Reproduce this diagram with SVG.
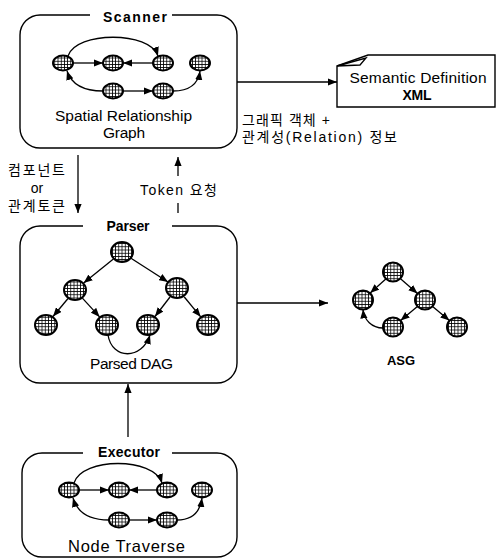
<svg xmlns="http://www.w3.org/2000/svg" width="501" height="559" viewBox="0 0 501 559">
<defs>
<pattern id="hatch" width="3.2" height="3.2" patternUnits="userSpaceOnUse">
<rect width="3.2" height="3.2" fill="#fff"/>
<path d="M0,0.4 H3.2 M0.4,0 V3.2" stroke="#000" stroke-width="0.8"/>
</pattern>
<marker id="ah" viewBox="0 0 10 8" refX="10" refY="4" markerWidth="9" markerHeight="7.5" markerUnits="userSpaceOnUse" orient="auto">
<path d="M0,0 L10,4 L0,8 Z" fill="#000"/>
</marker>
</defs>
<style>
.box{fill:none;stroke:#000;stroke-width:1.4}
.n{fill:url(#hatch);stroke:#000;stroke-width:2}
.e{fill:none;stroke:#000;stroke-width:1.3;marker-end:url(#ah)}
.l{fill:none;stroke:#000;stroke-width:1.3}
.t{font-family:"Liberation Sans",Arial,sans-serif;font-size:15.5px;fill:#000}
.b{font-family:"Liberation Sans",Arial,sans-serif;font-size:14px;font-weight:bold;fill:#000}
.k{font-family:"Liberation Sans","Noto Sans CJK KR",sans-serif;font-size:14px;fill:#000}
</style>
<rect width="501" height="559" fill="#fff"/>

<g id="scanner">
<path class="box" d="M90,15 H40 A20,20 0 0 0 20,35 V128 A20,20 0 0 0 40,148 H217 A20,20 0 0 0 237,128 V35 A20,20 0 0 0 217,15 H172"/>
<text class="b" x="135" y="21.5" text-anchor="middle" textLength="64" lengthAdjust="spacing">Scanner</text>
<g class="edges">
<path class="e" d="M73,63 L103,63"/>
<path class="e" d="M153,63 L123,63"/>
<path class="e" d="M68,56 C76,31 150,31 158,56"/>
<path class="e" d="M103,91 C86,91 72,86 67,71"/>
<path class="e" d="M123,91 L153,91"/>
<path class="e" d="M173,91 C188,91 198,85 200,71"/>
</g>
<ellipse class="n" cx="63" cy="63" rx="10" ry="7.5"/>
<ellipse class="n" cx="113" cy="63" rx="10" ry="7.5"/>
<ellipse class="n" cx="163" cy="63" rx="10" ry="7.5"/>
<ellipse class="n" cx="200" cy="63" rx="10" ry="7.5"/>
<ellipse class="n" cx="113" cy="91" rx="10" ry="7.5"/>
<ellipse class="n" cx="163" cy="91" rx="10" ry="7.5"/>
<text class="t" x="123.5" y="121" text-anchor="middle" textLength="137" lengthAdjust="spacing">Spatial Relationship</text>
<text class="t" x="124" y="138" text-anchor="middle" textLength="42" lengthAdjust="spacing">Graph</text>
</g>

<g id="xml">
<path class="box" d="M337,66 L368,55 L495,55 L495,107 L337,107 Z"/>
<path class="l" d="M337,66 L366,58 L360,65 Z" stroke-width="1"/>
<text class="t" x="418" y="83" text-anchor="middle" textLength="137" lengthAdjust="spacing">Semantic Definition</text>
<text class="b" x="417" y="100" text-anchor="middle" textLength="29" lengthAdjust="spacing">XML</text>
</g>

<g id="parser">
<path class="box" d="M83,226 H40 A20,20 0 0 0 20,246 V363 A20,20 0 0 0 40,383 H217 A20,20 0 0 0 237,363 V246 A20,20 0 0 0 217,226 H172"/>
<text class="b" x="128" y="231" text-anchor="middle" textLength="43" lengthAdjust="spacing">Parser</text>
<g class="edges">
<path class="e" d="M113.4,258.9 L83.6,283.1"/>
<path class="e" d="M131,258.2 L168,282"/>
<path class="e" d="M68,298.5 L53,316.5"/>
<path class="e" d="M82.4,298.1 L99.6,316.9"/>
<path class="e" d="M170,297 L155,316.5"/>
<path class="e" d="M184.3,297 L200.7,316.8"/>
<path class="e" d="M108,335 C112,360 142,360 150,335"/>
</g>
<ellipse class="n" cx="122" cy="252" rx="11" ry="10"/>
<ellipse class="n" cx="75" cy="290" rx="11" ry="10"/>
<ellipse class="n" cx="177" cy="288" rx="11" ry="10"/>
<ellipse class="n" cx="46" cy="325" rx="11" ry="10"/>
<ellipse class="n" cx="107" cy="325" rx="11" ry="10"/>
<ellipse class="n" cx="148" cy="325" rx="11" ry="10"/>
<ellipse class="n" cx="208" cy="325" rx="11" ry="10"/>
<text class="t" x="131.5" y="369" text-anchor="middle" textLength="83" lengthAdjust="spacing">Parsed DAG</text>
</g>

<g id="asg">
<g class="edges">
<path class="e" d="M385.8,279 L370.2,293"/>
<path class="e" d="M400.8,279 L417.5,293.5"/>
<path class="e" d="M417.4,306.4 L400.6,320.6"/>
<path class="e" d="M432.6,306.4 L449.4,320.6"/>
<path class="e" d="M383,328 C372,328 364,320 363,309.5"/>
</g>
<ellipse class="n" cx="393" cy="272" rx="10" ry="9.5"/>
<ellipse class="n" cx="363" cy="300" rx="10" ry="9.5"/>
<ellipse class="n" cx="425" cy="300" rx="10" ry="9.5"/>
<ellipse class="n" cx="393" cy="327" rx="10" ry="9.5"/>
<ellipse class="n" cx="457" cy="327" rx="10" ry="9.5"/>
<text class="b" x="401" y="365" text-anchor="middle" style="font-size:13px">ASG</text>
</g>

<g id="executor">
<path class="box" d="M83,453 H42 A20,20 0 0 0 22,473 V537 A20,20 0 0 0 42,557 H217 A20,20 0 0 0 237,537 V473 A20,20 0 0 0 217,453 H172"/>
<text class="b" x="129" y="457" text-anchor="middle" textLength="62" lengthAdjust="spacing">Executor</text>
<g class="edges">
<path class="e" d="M79,490 L109,490"/>
<path class="e" d="M157,490 L129,490"/>
<path class="e" d="M74,483 C82,457 154,457 162,483"/>
<path class="e" d="M109,520 C92,520 78,515 73,498"/>
<path class="e" d="M129,520 L157,520"/>
<path class="e" d="M177,520 C192,520 200,513 202,498"/>
</g>
<ellipse class="n" cx="69" cy="490" rx="10" ry="7.5"/>
<ellipse class="n" cx="119" cy="490" rx="10" ry="7.5"/>
<ellipse class="n" cx="167" cy="490" rx="10" ry="7.5"/>
<ellipse class="n" cx="202" cy="490" rx="10" ry="7.5"/>
<ellipse class="n" cx="119" cy="520" rx="10" ry="7.5"/>
<ellipse class="n" cx="167" cy="520" rx="10" ry="7.5"/>
<text class="t" x="126.5" y="552" text-anchor="middle" textLength="117" lengthAdjust="spacing" style="font-size:16.5px">Node Traverse</text>
</g>

<g id="connectors">
<path class="e" d="M237,82 L337,82"/>
<path class="e" d="M237,303 L328,303"/>
<path class="e" d="M78,155 L78,213"/>
<path class="e" d="M178,176 L178,157"/>
<path class="l" d="M178,203 L178,213"/>
<path class="e" d="M128,437 L128,384"/>
</g>

<g id="labels">
<text class="k" x="242" y="125" textLength="88" lengthAdjust="spacing">그래픽 객체 +</text>
<text class="k" x="242" y="142" textLength="155" lengthAdjust="spacing">관계성(Relation) 정보</text>
<text class="k" x="36.5" y="175" text-anchor="middle" textLength="57" lengthAdjust="spacing">컴포넌트</text>
<text class="k" x="37" y="193" text-anchor="middle">or</text>
<text class="k" x="36.5" y="211" text-anchor="middle" textLength="57" lengthAdjust="spacing">관계토큰</text>
<text class="k" x="140" y="195" textLength="77" lengthAdjust="spacing">Token 요청</text>
</g>
</svg>
